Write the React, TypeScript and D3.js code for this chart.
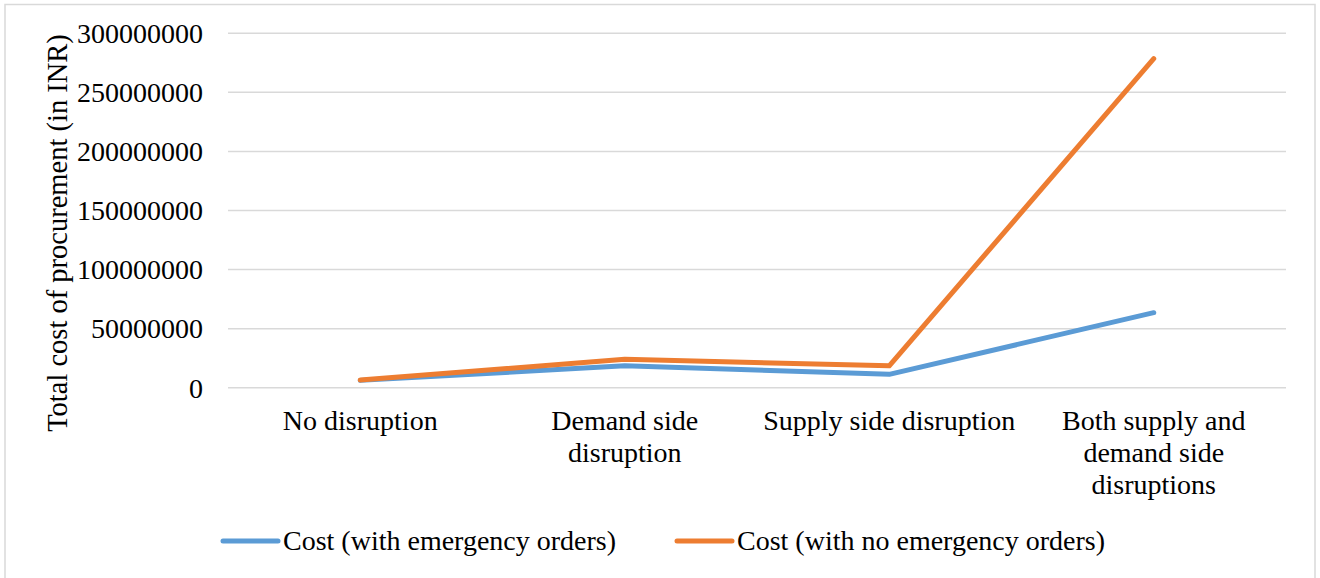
import React, { useMemo } from "react";
import * as d3 from "d3";

const categories = [
  "No disruption",
  "Demand side disruption",
  "Supply side disruption",
  "Both supply and demand side disruptions",
];
const withEmergency = [6200000, 18500000, 11300000, 63500000];
const withoutEmergency = [6500000, 24000000, 18500000, 278500000];
const seriesNames = ["Cost (with emergency orders)", "Cost (with no emergency orders)"];
const yTicks = [0, 50000000, 100000000, 150000000, 200000000, 250000000, 300000000];
const yTitle = "Total cost of procurement (in INR)";

const W = 1320;
const H = 578;
const FONT = "'Liberation Serif', 'Times New Roman', serif";
const FS = 28;
const BLUE = "#5B9BD5";
const ORANGE = "#ED7D31";
const GRID = "#D9D9D9";

function wrap(text: string, maxW: number): string[] {
  const c = document.createElement("canvas").getContext("2d")!;
  c.font = `${FS}px ${FONT}`;
  const words = text.split(" ");
  const lines: string[] = [];
  let cur = "";
  for (const w of words) {
    const t = cur ? cur + " " + w : w;
    if (c.measureText(t).width > maxW && cur) {
      lines.push(cur);
      cur = w;
    } else cur = t;
  }
  if (cur) lines.push(cur);
  return lines;
}

export default function App() {
  const x = d3.scaleBand<string>().domain(categories).range([228, 1286]);
  const y = d3.scaleLinear().domain([0, 300000000]).range([387.7, 33.3]);
  const cx = (c: string) => (x(c) as number) + x.bandwidth() / 2;
  const line = d3
    .line<number>()
    .x((_, i) => cx(categories[i]))
    .y((d) => y(d));
  const labels = useMemo(() => categories.map((c) => wrap(c, 258)), []);
  const series = [
    { name: seriesNames[0], data: withEmergency, color: BLUE },
    { name: seriesNames[1], data: withoutEmergency, color: ORANGE },
  ];
  const legendX = [223, 677];

  return (
    <svg
      width={W}
      height={H}
      style={{ position: "fixed", left: 0, top: 0, background: "#fff" }}
      fontFamily={FONT}
    >
      <rect x={0} y={0} width={W} height={H} fill="#fff" />
      <rect x={5} y={4.5} width={1310} height={580} fill="none" stroke={GRID} strokeWidth={1.5} />
      {yTicks.map((t) => (
        <g key={t}>
          <line x1={228} x2={1286} y1={y(t)} y2={y(t)} stroke={GRID} strokeWidth={1.5} />
          <text x={203} y={y(t)} dy="0.35em" textAnchor="end" fontSize={FS} fill="#000">
            {t}
          </text>
        </g>
      ))}
      {categories.map((c, i) => (
        <text key={c} x={cx(c)} y={430} textAnchor="middle" fontSize={FS} fill="#000">
          {labels[i].map((l, j) => (
            <tspan key={j} x={cx(c)} y={430 + j * 32}>
              {l}
            </tspan>
          ))}
        </text>
      ))}
      <text
        transform={`translate(66.5,233) rotate(-90)`}
        textAnchor="middle"
        fontSize={28.5}
        fill="#000"
      >
        {yTitle}
      </text>
      {series.map((s) => (
        <path
          key={s.name}
          d={line(s.data) || ""}
          fill="none"
          stroke={s.color}
          strokeWidth={5}
          strokeLinecap="round"
          strokeLinejoin="round"
        />
      ))}
      {series.map((s, i) => (
        <g key={s.name}>
          <line
            x1={legendX[i]}
            x2={legendX[i] + 55}
            y1={541}
            y2={541}
            stroke={s.color}
            strokeWidth={5}
            strokeLinecap="round"
          />
          <text x={legendX[i] + 60} y={549.5} fontSize={FS} fill="#000">
            {s.name}
          </text>
        </g>
      ))}
    </svg>
  );
}
